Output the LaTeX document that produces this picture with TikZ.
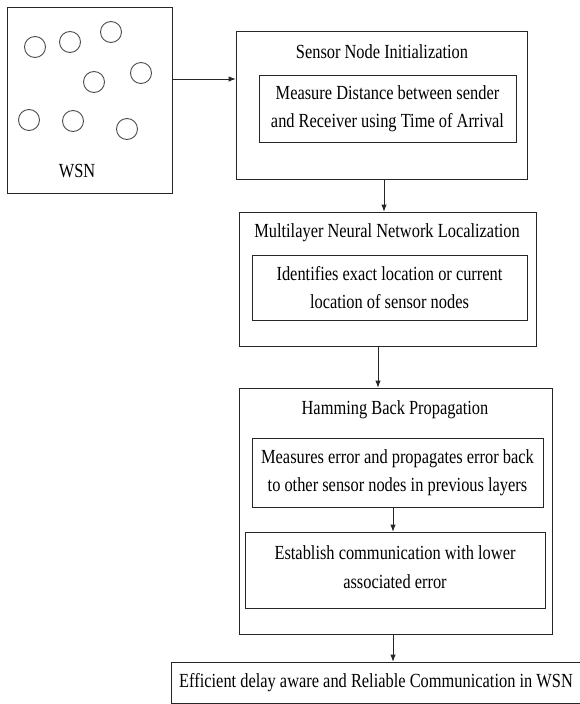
\documentclass[tikz,border=0pt]{standalone}
\usepackage{fontspec}
\setmainfont{Liberation Serif}[FakeStretch=0.82]
\usetikzlibrary{arrows.meta}
\begin{document}
\begin{tikzpicture}[x=1pt,y=-1pt,
  box/.style={draw=black!85,line width=0.8pt,rectangle,inner sep=0pt},
  txt/.style={font=\fontsize{20}{28.5}\selectfont,align=center,inner sep=0pt,text=black},
  sensor/.style={draw=black!70,line width=0.9pt,circle,minimum size=21pt,inner sep=0pt},
  arr/.style={draw=black!85,line width=0.8pt,-{Latex[length=7pt,width=5.5pt]}}]
\useasboundingbox (0,0) rectangle (579,704);
% WSN
\node[box,minimum width=165pt,minimum height=186pt] (wsn) at (89.5,100) {};
\node[sensor] (s1) at (35,47) {};
\node[sensor] (s2) at (70,42) {};
\node[sensor] (s3) at (111,32) {};
\node[sensor] (s4) at (94,82) {};
\node[sensor] (s5) at (141,73) {};
\node[sensor] (s6) at (29,120) {};
\node[sensor] (s7) at (73,121) {};
\node[sensor] (s8) at (127,129) {};
\node[txt] (wsnt) at (77,171) {WSN};
% Box 1
\node[box,minimum width=291pt,minimum height=148pt] (b1) at (381.5,105) {};
\node[txt] (b1t) at (382,52) {Sensor Node Initialization};
\node[box,txt,minimum width=257pt,minimum height=67pt] (b1i) at (387.5,108.5) {Measure Distance between sender\\and Receiver using Time of Arrival};
% Box 2
\node[box,minimum width=297pt,minimum height=134pt] (b2) at (387.5,279) {};
\node[txt] (b2t) at (387,233) {Multilayer Neural Network Localization};
\node[box,txt,minimum width=275pt,minimum height=65pt] (b2i) at (389.5,287.5) {Identifies exact location or current\\location of sensor nodes};
% Box 3
\node[box,minimum width=313pt,minimum height=246pt] (b3) at (395.5,511) {};
\node[txt] (b3t) at (395,410) {Hamming Back Propagation};
\node[box,txt,minimum width=291pt,minimum height=69pt] (b3a) at (397.5,472.5) {Measures error and propagates error back\\to other sensor nodes in previous layers};
\node[box,minimum width=300pt,minimum height=76pt] (b3b) at (395,570) {};
\node[txt] (b3bt) at (395,567) {Establish communication with lower\\associated error};
% Final
\node[box,minimum width=419pt,minimum height=41pt] (fin) at (380.5,682.5) {};
\node[txt] (fint) at (376,683) {Efficient delay aware and Reliable Communication in WSN};
% arrows
\coordinate (c1) at (0,79);
\coordinate (c2) at (384,0);
\coordinate (c3) at (378,0);
\coordinate (c4) at (393,0);
\draw[arr] (wsn.east |- c1) -- (b1.west |- c1);
\draw[arr] (b1.south -| c2) -- (b2.north -| c2);
\draw[arr] (b2.south -| c3) -- (b3.north -| c3);
\draw[arr] (b3a.south -| c4) -- (b3b.north -| c4);
\draw[arr] (b3.south -| c4) -- (fin.north -| c4);
\end{tikzpicture}
\end{document}
